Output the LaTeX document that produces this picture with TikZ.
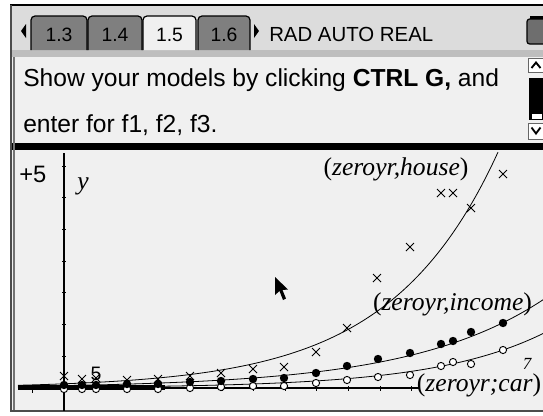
\documentclass[tikz,border=0pt]{standalone}
\usepackage{fontspec}
\setmainfont{Liberation Serif}
\newfontfamily\tisans{Liberation Sans}
\definecolor{barbg}{HTML}{DCDCDC}
\definecolor{sepgray}{HTML}{BEBEBE}
\definecolor{panel}{HTML}{F0F0F0}
\definecolor{tabgray}{HTML}{7F7F7F}
\definecolor{battgray}{HTML}{6E6E6E}
\tikzset{
  curve/.style={black, line width=0.6pt},
  hmark/.style={black, line width=0.7pt},
  imark/.style={black},
  cmark/.style={draw=black, fill=white, line width=0.7pt},
  lab/.style={font=\itshape\fontsize{19.2}{20}\selectfont, inner sep=0pt, anchor=base},
  tabtext/.style={font=\tisans\fontsize{14.5}{15}\selectfont, inner sep=0pt, anchor=base},
}
\begin{document}
\begin{tikzpicture}[x=0.75pt,y=-0.75pt]
\useasboundingbox (0,0) rectangle (543,415);
\clip (0,0) rectangle (543,415);
\fill[white] (0,0) rectangle (543,415);
% panels
\fill[barbg] (11,5) rectangle (543,50);
\fill[sepgray] (11,50) rectangle (543,57);
\fill[panel] (11,57) rectangle (543,143);
\fill[black] (11,143) rectangle (543,150);
\fill[panel] (11,150) rectangle (543,411);
% frame
\draw[black, line width=1pt] (10,5) -- (543,5);
\draw[black!70, line width=0.9pt] (11,5) -- (11,411.5);
\draw[black!55, line width=0.8pt] (14,57) -- (14,411);
\draw[black!70, line width=0.9pt] (11,411) -- (543,411);
% tab bar
\fill[black] (21,31) -- (26,24) -- (26,38) -- cycle;
\foreach \xa/\xb/\c in {31/87/tabgray, 88/142/tabgray, 143/196/panel, 198/250/tabgray}{
  \filldraw[fill=\c, draw=black, line width=0.9pt]
    (\xa,50) [rounded corners=3pt] -- (\xa,16) -- (\xb,16) [sharp corners] -- (\xb,50);
}
\node[tabtext] (t13) at (59,41.5) {1.3};
\node[tabtext] (t14) at (115,41.5) {1.4};
\node[tabtext] (t15) at (169.5,41.5) {1.5};
\node[tabtext] (t16) at (224,41.5) {1.6};
\fill[black] (254,24) -- (259,31) -- (254,38) -- cycle;
\node[font=\tisans\fontsize{15.3}{16}\selectfont, inner sep=0pt, anchor=base west] (mode) at (269,41.5) {RAD AUTO REAL};
% battery
\filldraw[fill=battgray, draw=black, line width=0.9pt, rounded corners=2pt] (527,19) rectangle (546,44);
\fill[black] (530,16) rectangle (546,19);
% text
\node[font=\tisans\fontsize{18.45}{20}\selectfont, inner sep=0pt, anchor=base west] (line1) at (23,86) {Show your models by clicking \textbf{CTRL G,} and};
\node[font=\tisans\fontsize{18.45}{20}\selectfont, inner sep=0pt, anchor=base west] (line2) at (23,132) {enter for f1, f2, f3.};
% scrollbar
\draw[fill=white, draw=black!60, line width=0.7pt] (528,58) rectangle (545,72);
\draw[black, line width=1.4pt] (531.5,68) -- (536,62.5) -- (540.5,68);
\fill[black] (529,78) rectangle (545,120);
\draw[fill=white, draw=black, line width=0.6pt] (531,113) rectangle (542,119);
\draw[fill=white, draw=black!60, line width=0.7pt] (528,123) rectangle (545,139);
\draw[black, line width=1.4pt] (531.5,127.5) -- (536,133.5) -- (540.5,127.5);
% axes
\draw[black, line width=0.8pt] (64,153) -- (64,411);
\foreach \k in {1,...,7}{ \draw[black, line width=0.7pt] (62,{388-31.7*\k}) -- (66,{388-31.7*\k}); }
\fill[black] (18,385.3) rectangle (165,390.3);
\draw[black, line width=0.8pt] (18,388) -- (420,388);
\draw[black, line width=0.7pt] (32,388) -- (32,393);
\foreach \k in {0,...,11}{ \draw[black, line width=0.6pt] ({64+31.6*\k},386) -- ({64+31.6*\k},390.5); }
% curves
\draw[curve] plot[domain=18:498, samples=150] (\x,{388-4.18*exp(0.0093*(\x-64))});
\draw[curve] plot[domain=18:543, samples=150] (\x,{388-2.42*exp(0.0075*(\x-64))});
\draw[curve] plot[domain=18:543, samples=150] (\x,{388-0.73*exp(0.009*(\x-64))});
% car points
\foreach \px/\py in {64/389,82/389,96/389,127/389,158/389,190/388,221/387,253/386,284/386,316/383,347/380,378/377,410/375,441/366,453/362,471/364,503/350}{
  \draw[cmark, shift={(\px,\py)}] (0,0) circle[radius=3.6];
}
% income points
\foreach \px/\py in {64/385,82/385,96/385,127/384,158/384,190/382,221/381,253/379,284/378,316/373,347/366,378/359,410/353,441/344,453/341,471/332,503/323}{
  \fill[imark, shift={(\px,\py)}] (0,0) circle[radius=4.2];
}
% house points
\foreach \px/\py in {64/376,82/379,96/378,127/380,158/379,190/376,221/373,253/369,284/367,316/352,347/328,377/278,410/247,441/193,453/193,471/208,503/174}{
  \draw[hmark, shift={(\px,\py)}] (-4,-4) -- (4,4) (-4,4) -- (4,-4);
}
% labels
\node[font=\tisans\fontsize{17.8}{18}\selectfont, inner sep=0pt, anchor=base west] (yplus) at (19,182) {+5};
\node[font=\itshape\fontsize{19.2}{20}\selectfont, inner sep=0pt, anchor=base west] (ylab) at (77,189.5) {y};
\node[font=\tisans\fontsize{14.6}{15}\selectfont, inner sep=0pt, anchor=base] (xfive) at (96,380) {5};
\node[font=\itshape\fontsize{12.75}{13}\selectfont, inner sep=0pt, anchor=base] (xseven) at (527,369) {7};
\node[lab] (houselab) at (396,175) {{\upshape(}zeroyr,house{\upshape)}};
\node[lab] (incomelab) at (452.5,310) {{\upshape(}zeroyr,income{\upshape)}};
\node[lab] (carlab) at (479,391) {{\upshape(}zeroyr;car{\upshape)}};
% cursor
\fill[black] (275,277) -- (275,295) -- (279.5,291) -- (283,300) -- (286,298.5) -- (282.5,290) -- (288,289.5) -- cycle;
\end{tikzpicture}
\end{document}
